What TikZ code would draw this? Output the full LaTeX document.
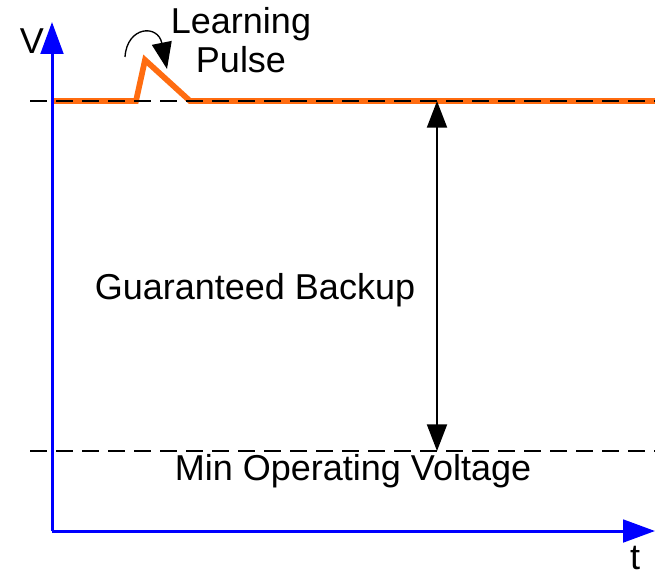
\documentclass[tikz,border=0pt]{standalone}
\usepackage{fontspec}
\setmainfont{Liberation Sans}
\usetikzlibrary{arrows.meta}

\definecolor{pulseorange}{RGB}{255,108,16}

\begin{document}
\begin{tikzpicture}[x=0.75pt, y=-0.75pt, font=\fontsize{27}{29}\selectfont,
    axis/.style={blue, line width=2.25pt, -{Triangle[length=24pt, width=17pt]}},
    level/.style={black, line width=1.6pt, dash pattern=on 12.5pt off 7pt},
    span/.style={black, line width=1.5pt, {Triangle[length=20pt, width=15pt]}-{Triangle[length=20pt, width=15pt]}}]
    \useasboundingbox (0,0) rectangle (655,574);

    \coordinate (O) at (52,531);
    \coordinate (vtop) at (52,22);
    \coordinate (tend) at (655,531);
    \coordinate (hiL) at (30,101);
    \coordinate (hiR) at (655,101);
    \coordinate (loL) at (30,451);
    \coordinate (loR) at (655,451);
    \coordinate (top) at (437,101);
    \coordinate (bot) at (437,451);

    % voltage trace with the learning pulse
    \draw[pulseorange, line width=4.3pt, line join=miter]
        (52,101) -- (136,101) -- (145,60) -- (190,101) -- (655,101);

    \draw[level] (hiL) -- (hiR);
    \draw[level] (loL) -- (loR);

    \draw[axis] (O) -- (vtop);
    \draw[axis] (O) -- (tend);
    \node (vlab) at (32,41) {V};
    \node[inner sep=0pt] (tlab) at (635,558) {t};

    \draw[span] (top) -- (bot);
    \node (backup) at (255,290) {Guaranteed Backup};
    \node (minv) at (353,471) {Min Operating Voltage};

    % bent arrow pointing at the pulse
    \coordinate (cs) at (125,57);
    \coordinate (ce) at (167,69);
    \draw[line width=1pt, -{Triangle[length=20pt, width=15pt]}]
        (cs) .. controls (127,26) and (158,24) .. (ce);
    \node[align=center] (learn) at (241,40) {Learning\\Pulse};
\end{tikzpicture}
\end{document}
